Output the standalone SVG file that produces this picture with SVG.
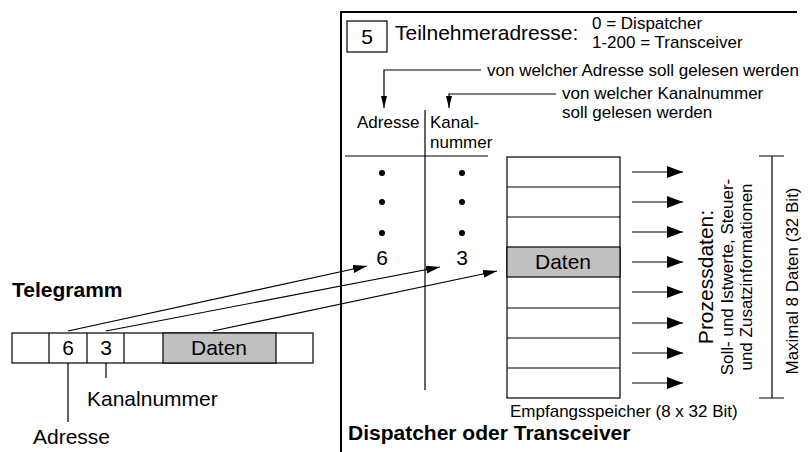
<svg xmlns="http://www.w3.org/2000/svg" width="810" height="452" viewBox="0 0 810 452">
<style>
text{font-family:"Liberation Sans",Arial,sans-serif;fill:#000}
.l{font-size:21px}
.s{font-size:17px}
.b{font-size:21px;font-weight:bold}
.m{text-anchor:middle}
.ln{stroke:#000;stroke-width:1.2;fill:none}
.thick{stroke:#000;stroke-width:2;fill:none}
.cell{fill:#fff;stroke:#000;stroke-width:1.2}
.gray{fill:#c0c0c0;stroke:#000;stroke-width:1.2}
</style>
<defs>
<marker id="ah" markerUnits="userSpaceOnUse" markerWidth="16" markerHeight="10" refX="14" refY="4" orient="auto"><path d="M0,0 L14,4 L0,8 Z" fill="#000"/></marker>
<marker id="ad" markerUnits="userSpaceOnUse" markerWidth="14" markerHeight="8" refX="12" refY="3" orient="auto"><path d="M0,0 L12,3 L0,6 Z" fill="#000"/></marker>
<marker id="ar" markerUnits="userSpaceOnUse" markerWidth="17" markerHeight="13" refX="16" refY="6" orient="auto"><path d="M0,0 L16,6 L0,12 Z" fill="#000"/></marker>
</defs>
<rect width="810" height="452" fill="#fff"/>

<g id="frame">
<path class="thick" d="M341,452 V12 H797"/>
<text class="b" x="348" y="440">Dispatcher oder Transceiver</text>
</g>

<g id="address-box">
<rect class="cell" x="347" y="21" width="40" height="31"/>
<text class="l m" x="367" y="44">5</text>
<text class="l" x="395" y="40">Teilnehmeradresse:</text>
<text class="s" x="592" y="29">0 = Dispatcher</text>
<text class="s" x="592" y="48">1-200 = Transceiver</text>
</g>

<g id="read-notes">
<text class="s" x="487" y="76">von welcher Adresse soll gelesen werden</text>
<text class="s" x="562" y="99">von welcher Kanalnummer</text>
<text class="s" x="562" y="118">soll gelesen werden</text>
</g>

<g id="table">
<text class="s" x="357" y="128">Adresse</text>
<text class="s" x="430" y="128">Kanal-</text>
<text class="s" x="430" y="148">nummer</text>
<path class="ln" d="M345,156 H488 M425,110 V390"/>
<circle cx="382" cy="173" r="3"/><circle cx="382" cy="202" r="3"/><circle cx="382" cy="233" r="3"/>
<circle cx="462" cy="173" r="3"/><circle cx="462" cy="202" r="3"/><circle cx="462" cy="233" r="3"/>
<text class="l m" x="382" y="265">6</text>
<text class="l m" x="462" y="265">3</text>
</g>

<g id="register">
<rect class="cell" x="507" y="157" width="113" height="241"/>
<rect class="gray" x="507" y="247" width="113" height="30"/>
<path class="ln" d="M507,187 H620 M507,217 H620 M507,308 H620 M507,338 H620 M507,368 H620"/>
<text class="l m" x="563" y="269">Daten</text>
<text class="s" x="510" y="417">Empfangsspeicher (8 x 32 Bit)</text>
</g>

<g id="process-data">
<text class="l m" transform="translate(713,277) rotate(-90)">Prozessdaten:</text>
<text class="s m" transform="translate(733,277) rotate(-90)">Soll- und Istwerte, Steuer-</text>
<text class="s m" transform="translate(752,277) rotate(-90)">und Zusatzinformationen</text>
</g>

<g id="max-bracket">
<path class="ln" d="M759,156 H784 M772,156 V398 M759,398 H784"/>
<text class="s m" transform="translate(798,281) rotate(-90)">Maximal 8 Daten (32 Bit)</text>
</g>

<g id="telegram">
<text class="b" x="12" y="297">Telegramm</text>
<rect class="cell" x="12" y="333" width="301" height="30"/>
<rect class="gray" x="163" y="333" width="113" height="30"/>
<path class="ln" d="M49,333 V363 M87,333 V363 M124,333 V363"/>
<text class="l m" x="68" y="355">6</text>
<text class="l m" x="106" y="355">3</text>
<text class="l m" x="219" y="355">Daten</text>
<path class="ln" d="M68,363 V422 M106,363 V378"/>
<text class="l" x="87" y="406">Kanalnummer</text>
<text class="l" x="33" y="444">Adresse</text>
</g>

<g id="connectors">
<path class="ln" d="M481,70 H384 V108" marker-end="url(#ad)"/>
<path class="ln" d="M556,94 H449 V108" marker-end="url(#ad)"/>
<path class="ln" d="M68,331 L367,266" marker-end="url(#ah)"/>
<path class="ln" d="M106,331 L440,267" marker-end="url(#ah)"/>
<path class="ln" d="M213,331 L497,271" marker-end="url(#ah)"/>
<path class="ln" d="M632,172 H683" marker-end="url(#ar)"/>
<path class="ln" d="M632,202 H683" marker-end="url(#ar)"/>
<path class="ln" d="M632,232 H683" marker-end="url(#ar)"/>
<path class="ln" d="M632,262 H683" marker-end="url(#ar)"/>
<path class="ln" d="M632,292 H683" marker-end="url(#ar)"/>
<path class="ln" d="M632,323 H683" marker-end="url(#ar)"/>
<path class="ln" d="M632,353 H683" marker-end="url(#ar)"/>
<path class="ln" d="M632,383 H683" marker-end="url(#ar)"/>
</g>
</svg>
